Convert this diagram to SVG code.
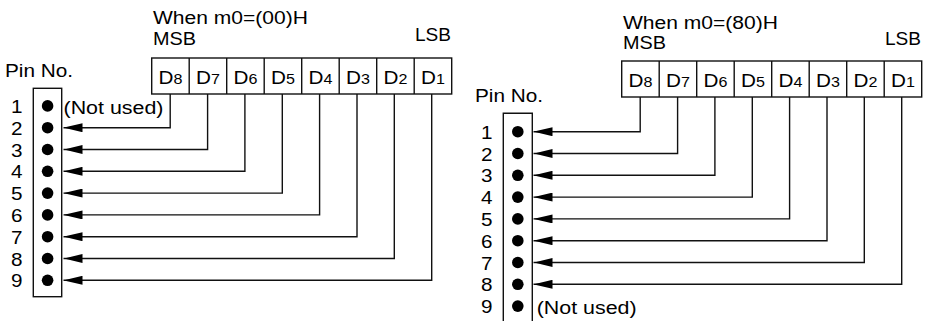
<svg xmlns="http://www.w3.org/2000/svg" width="928" height="321" viewBox="0 0 928 321">
<style>
text{font-family:"Liberation Sans",Arial,Helvetica,sans-serif;fill:#000;font-size:18px}
.sub{font-size:14px}
.box{fill:#fff;stroke:#111;stroke-width:1.4}
.ln{fill:none;stroke:#111;stroke-width:1.4}
.dot{fill:#000}
.pn{text-anchor:middle;font-size:18.5px}
.dl{text-anchor:middle;font-size:18px}
</style>
<defs>
<marker id="arr" markerUnits="userSpaceOnUse" markerWidth="19" markerHeight="9" viewBox="0 0 19 9" refX="19" refY="4.5" orient="auto">
<path d="M0,0 L19,4.5 L0,9 Z" fill="#000"/>
</marker>
</defs>
<rect width="928" height="321" fill="#fff"/>

<!-- LEFT: m0=(00)H -->
<g id="title-left">
<text x="153" y="23.5" textLength="155" lengthAdjust="spacingAndGlyphs">When m0=(00)H</text>
<text x="153" y="45" textLength="43" lengthAdjust="spacingAndGlyphs">MSB</text>
<text x="415" y="41" textLength="36" lengthAdjust="spacingAndGlyphs">LSB</text>
</g>
<g id="register-left">
<rect class="box" x="151.7" y="58" width="300" height="36"/>
<path class="ln" d="M189.2,58V94M226.7,58V94M264.2,58V94M301.7,58V94M339.2,58V94M376.7,58V94M414.2,58V94"/>
<text class="dl" transform="translate(170.4 84) scale(1.15 1)">D<tspan class="sub">8</tspan></text>
<text class="dl" transform="translate(207.9 84) scale(1.15 1)">D<tspan class="sub">7</tspan></text>
<text class="dl" transform="translate(245.4 84) scale(1.15 1)">D<tspan class="sub">6</tspan></text>
<text class="dl" transform="translate(282.9 84) scale(1.15 1)">D<tspan class="sub">5</tspan></text>
<text class="dl" transform="translate(320.4 84) scale(1.15 1)">D<tspan class="sub">4</tspan></text>
<text class="dl" transform="translate(357.9 84) scale(1.15 1)">D<tspan class="sub">3</tspan></text>
<text class="dl" transform="translate(395.4 84) scale(1.15 1)">D<tspan class="sub">2</tspan></text>
<text class="dl" transform="translate(432.9 84) scale(1.15 1)">D<tspan class="sub">1</tspan></text>
</g>
<g id="pins-left">
<text x="5" y="76.7" textLength="68" lengthAdjust="spacingAndGlyphs">Pin No.</text>
<rect class="box" x="33.3" y="88.3" width="28.4" height="208.4"/>
<circle class="dot" cx="47.6" cy="105.9" r="5.8"/>
<circle class="dot" cx="47.6" cy="127.7" r="5.8"/>
<circle class="dot" cx="47.6" cy="149.5" r="5.8"/>
<circle class="dot" cx="47.6" cy="171.3" r="5.8"/>
<circle class="dot" cx="47.6" cy="193.1" r="5.8"/>
<circle class="dot" cx="47.6" cy="214.9" r="5.8"/>
<circle class="dot" cx="47.6" cy="236.7" r="5.8"/>
<circle class="dot" cx="47.6" cy="258.5" r="5.8"/>
<circle class="dot" cx="47.6" cy="280.3" r="5.8"/>
<text class="pn" x="16.7" y="113" textLength="11.5" lengthAdjust="spacingAndGlyphs">1</text>
<text class="pn" x="16.7" y="134.8" textLength="11.5" lengthAdjust="spacingAndGlyphs">2</text>
<text class="pn" x="16.7" y="156.6" textLength="11.5" lengthAdjust="spacingAndGlyphs">3</text>
<text class="pn" x="16.7" y="178.4" textLength="11.5" lengthAdjust="spacingAndGlyphs">4</text>
<text class="pn" x="16.7" y="200.2" textLength="11.5" lengthAdjust="spacingAndGlyphs">5</text>
<text class="pn" x="16.7" y="222" textLength="11.5" lengthAdjust="spacingAndGlyphs">6</text>
<text class="pn" x="16.7" y="243.8" textLength="11.5" lengthAdjust="spacingAndGlyphs">7</text>
<text class="pn" x="16.7" y="265.6" textLength="11.5" lengthAdjust="spacingAndGlyphs">8</text>
<text class="pn" x="16.7" y="287.4" textLength="11.5" lengthAdjust="spacingAndGlyphs">9</text>
<text x="63.5" y="114" textLength="100" lengthAdjust="spacingAndGlyphs">(Not used)</text>
</g>

<!-- RIGHT: m0=(80)H -->
<g id="title-right">
<text x="623" y="28.5" textLength="155" lengthAdjust="spacingAndGlyphs">When m0=(80)H</text>
<text x="623" y="48.5" textLength="43" lengthAdjust="spacingAndGlyphs">MSB</text>
<text x="885" y="45" textLength="36" lengthAdjust="spacingAndGlyphs">LSB</text>
</g>
<g id="register-right">
<rect class="box" x="621.7" y="61" width="300" height="36"/>
<path class="ln" d="M659.2,61V97M696.7,61V97M734.2,61V97M771.7,61V97M809.2,61V97M846.7,61V97M884.2,61V97"/>
<text class="dl" transform="translate(640.4 87) scale(1.15 1)">D<tspan class="sub">8</tspan></text>
<text class="dl" transform="translate(677.9 87) scale(1.15 1)">D<tspan class="sub">7</tspan></text>
<text class="dl" transform="translate(715.4 87) scale(1.15 1)">D<tspan class="sub">6</tspan></text>
<text class="dl" transform="translate(752.9 87) scale(1.15 1)">D<tspan class="sub">5</tspan></text>
<text class="dl" transform="translate(790.4 87) scale(1.15 1)">D<tspan class="sub">4</tspan></text>
<text class="dl" transform="translate(827.9 87) scale(1.15 1)">D<tspan class="sub">3</tspan></text>
<text class="dl" transform="translate(865.4 87) scale(1.15 1)">D<tspan class="sub">2</tspan></text>
<text class="dl" transform="translate(902.9 87) scale(1.15 1)">D<tspan class="sub">1</tspan></text>
</g>
<g id="pins-right">
<text x="475" y="101.7" textLength="68" lengthAdjust="spacingAndGlyphs">Pin No.</text>
<path class="ln" d="M503.3,323V113.3H532.3V323" style="fill:#fff"/>
<circle class="dot" cx="517.8" cy="131.7" r="5.8"/>
<circle class="dot" cx="517.8" cy="153.5" r="5.8"/>
<circle class="dot" cx="517.8" cy="175.3" r="5.8"/>
<circle class="dot" cx="517.8" cy="197.1" r="5.8"/>
<circle class="dot" cx="517.8" cy="218.9" r="5.8"/>
<circle class="dot" cx="517.8" cy="240.7" r="5.8"/>
<circle class="dot" cx="517.8" cy="262.5" r="5.8"/>
<circle class="dot" cx="517.8" cy="284.3" r="5.8"/>
<circle class="dot" cx="517.8" cy="306.1" r="5.8"/>
<text class="pn" x="486.7" y="138.8" textLength="11.5" lengthAdjust="spacingAndGlyphs">1</text>
<text class="pn" x="486.7" y="160.6" textLength="11.5" lengthAdjust="spacingAndGlyphs">2</text>
<text class="pn" x="486.7" y="182.4" textLength="11.5" lengthAdjust="spacingAndGlyphs">3</text>
<text class="pn" x="486.7" y="204.2" textLength="11.5" lengthAdjust="spacingAndGlyphs">4</text>
<text class="pn" x="486.7" y="226" textLength="11.5" lengthAdjust="spacingAndGlyphs">5</text>
<text class="pn" x="486.7" y="247.8" textLength="11.5" lengthAdjust="spacingAndGlyphs">6</text>
<text class="pn" x="486.7" y="269.6" textLength="11.5" lengthAdjust="spacingAndGlyphs">7</text>
<text class="pn" x="486.7" y="291.4" textLength="11.5" lengthAdjust="spacingAndGlyphs">8</text>
<text class="pn" x="486.7" y="313.2" textLength="11.5" lengthAdjust="spacingAndGlyphs">9</text>
<text x="536.7" y="313.5" textLength="100" lengthAdjust="spacingAndGlyphs">(Not used)</text>
</g>

<g id="connectors">
<path class="ln" marker-end="url(#arr)" d="M170.2,94V127.7H63.5"/>
<path class="ln" marker-end="url(#arr)" d="M207.6,94V149.5H63.5"/>
<path class="ln" marker-end="url(#arr)" d="M244.9,94V171.3H63.5"/>
<path class="ln" marker-end="url(#arr)" d="M282.3,94V193.1H63.5"/>
<path class="ln" marker-end="url(#arr)" d="M319.6,94V214.9H63.5"/>
<path class="ln" marker-end="url(#arr)" d="M357,94V236.7H63.5"/>
<path class="ln" marker-end="url(#arr)" d="M394.3,94V258.5H63.5"/>
<path class="ln" marker-end="url(#arr)" d="M431.7,94V280.3H63.5"/>
<path class="ln" marker-end="url(#arr)" d="M640.2,97V131.7H533.5"/>
<path class="ln" marker-end="url(#arr)" d="M677.6,97V153.5H533.5"/>
<path class="ln" marker-end="url(#arr)" d="M714.9,97V175.3H533.5"/>
<path class="ln" marker-end="url(#arr)" d="M752.3,97V197.1H533.5"/>
<path class="ln" marker-end="url(#arr)" d="M789.6,97V218.9H533.5"/>
<path class="ln" marker-end="url(#arr)" d="M827,97V240.7H533.5"/>
<path class="ln" marker-end="url(#arr)" d="M864.3,97V262.5H533.5"/>
<path class="ln" marker-end="url(#arr)" d="M901.7,97V284.3H533.5"/>
</g>
</svg>
